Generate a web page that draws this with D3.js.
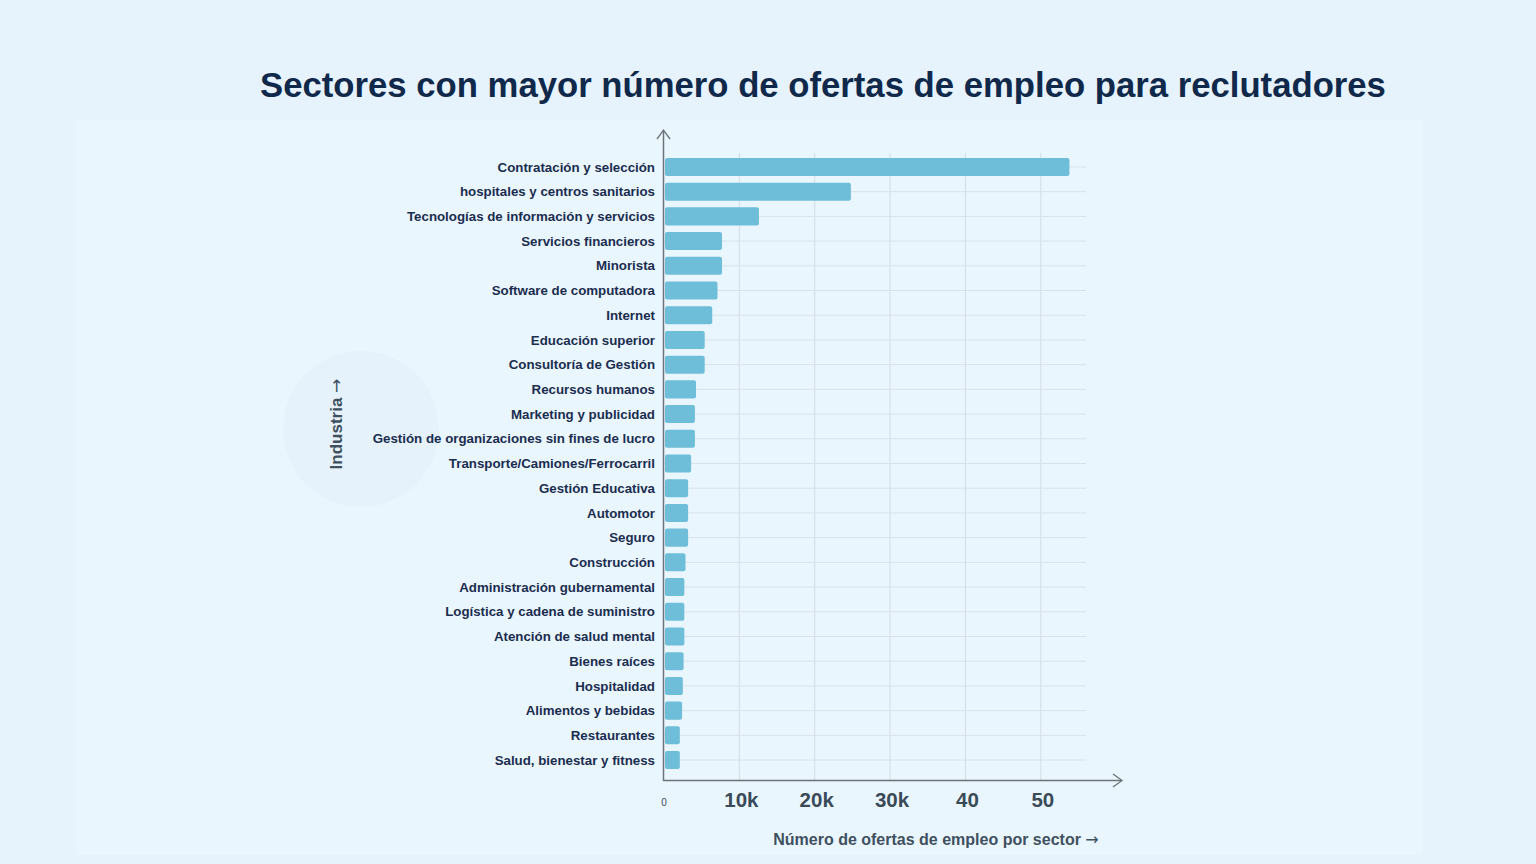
<!DOCTYPE html>
<html>
<head>
<meta charset="utf-8">
<script src="https://cdn.jsdelivr.net/npm/d3@7"></script>
<style>
  html, body { margin: 0; padding: 0; background: #e6f3fd; }
  svg { display: block; }
</style>
</head>
<body>
<svg id="chart" width="1536" height="864"></svg>
<script>
const categories = [
  "Contratación y selección",
  "hospitales y centros sanitarios",
  "Tecnologías de información y servicios",
  "Servicios financieros",
  "Minorista",
  "Software de computadora",
  "Internet",
  "Educación superior",
  "Consultoría de Gestión",
  "Recursos humanos",
  "Marketing y publicidad",
  "Gestión de organizaciones sin fines de lucro",
  "Transporte/Camiones/Ferrocarril",
  "Gestión Educativa",
  "Automotor",
  "Seguro",
  "Construcción",
  "Administración gubernamental",
  "Logística y cadena de suministro",
  "Atención de salud mental",
  "Bienes raíces",
  "Hospitalidad",
  "Alimentos y bebidas",
  "Restaurantes",
  "Salud, bienestar y fitness"
];
const values = [
  53800, 24800, 12600, 7700, 7700, 7100, 6400, 5400, 5400, 4250, 4100, 4100, 3600,
  3200, 3200, 3200, 2850, 2700, 2700, 2700, 2600, 2500, 2400, 2100, 2100
];
const tickValues = [0, 10000, 20000, 30000, 40000, 50000];
const tickLabels = ["0", "10k", "20k", "30k", "40", "50"];
const title = "Sectores con mayor número de ofertas de empleo para reclutadores";
const xTitle = "Número de ofertas de empleo por sector";
const yTitle = "Industria";
const arrow = "→";

const svg = d3.select("#chart");
const font = "'Liberation Sans', Arial, Helvetica, sans-serif";
const arrowFont = "'DejaVu Sans', sans-serif";

// background panel
svg.append("rect").attr("x", 0).attr("y", 0).attr("width", 1536).attr("height", 864).attr("fill", "#e6f3fd");
svg.append("rect").attr("x", 76).attr("y", 120).attr("width", 1347).attr("height", 735).attr("fill", "#eaf6fe");

// decorative circle
svg.append("circle").attr("cx", 361).attr("cy", 429).attr("r", 78).attr("fill", "#e6f2fb");

const x = d3.scaleLinear().domain([0, 56000]).range([664, 1086]);
const y = d3.scaleBand().domain(categories).range([154.6, 772.4]).paddingInner(0.27).paddingOuter(0.135);

const data = categories.map((c, i) => ({ c, v: values[i] }));

// vertical gridlines
svg.append("g").selectAll("line").data(tickValues.slice(1)).join("line")
  .attr("x1", d => x(d)).attr("x2", d => x(d))
  .attr("y1", 153).attr("y2", 780)
  .attr("stroke", "#d2dbe2").attr("stroke-width", 1);

// horizontal gridlines
svg.append("g").selectAll("line").data(categories).join("line")
  .attr("x1", 664).attr("x2", x(56000))
  .attr("y1", d => y(d) + y.bandwidth() / 2).attr("y2", d => y(d) + y.bandwidth() / 2)
  .attr("stroke", "#d8e1e7").attr("stroke-width", 1);

// bars
svg.append("g").selectAll("rect").data(data).join("rect")
  .attr("x", x(0) + 1)
  .attr("y", d => y(d.c))
  .attr("width", d => x(d.v) - x(0) - 1)
  .attr("height", y.bandwidth())
  .attr("rx", 2)
  .attr("fill", "#6ebed9");

// category labels
svg.append("g").selectAll("text").data(categories).join("text")
  .attr("x", 655)
  .attr("y", d => y(d) + y.bandwidth() / 2)
  .attr("dy", "0.35em")
  .attr("text-anchor", "end")
  .attr("font-family", font)
  .attr("font-weight", "bold")
  .attr("font-size", 13.3)
  .attr("fill", "#1b2d4f")
  .text(d => d);

// axes lines with arrows
const axisColor = "#6b7379";
svg.append("line").attr("x1", 663.5).attr("x2", 663.5).attr("y1", 781).attr("y2", 131)
  .attr("stroke", axisColor).attr("stroke-width", 1.5);
svg.append("path").attr("d", "M657,139 L663.5,130 L670,139").attr("fill", "none")
  .attr("stroke", axisColor).attr("stroke-width", 1.3);
svg.append("line").attr("x1", 663).attr("x2", 1121).attr("y1", 780.5).attr("y2", 780.5)
  .attr("stroke", axisColor).attr("stroke-width", 1.5);
svg.append("path").attr("d", "M1113,774 L1122,780.5 L1113,787").attr("fill", "none")
  .attr("stroke", axisColor).attr("stroke-width", 1.3);

// x tick labels
svg.append("g").selectAll("text").data(tickValues).join("text")
  .attr("x", (d, i) => i === 0 ? x(d) : x(d) + 2)
  .attr("y", (d, i) => i === 0 ? 806 : 807)
  .attr("text-anchor", "middle")
  .attr("font-family", font)
  .attr("font-weight", (d, i) => i === 0 ? "normal" : "bold")
  .attr("font-size", (d, i) => i === 0 ? 10 : 20.5)
  .attr("fill", "#3a4a58")
  .text((d, i) => tickLabels[i]);

// axis titles
const xt = svg.append("text").attr("x", 936).attr("y", 845).attr("text-anchor", "middle")
  .attr("font-family", font).attr("font-weight", "bold").attr("font-size", 16)
  .attr("fill", "#3f5060");
xt.append("tspan").text(xTitle + " ");
xt.append("tspan").attr("font-family", arrowFont).attr("font-weight", "normal").text(arrow);

const yt = svg.append("text").attr("transform", "translate(342,424) rotate(-90)")
  .attr("text-anchor", "middle")
  .attr("font-family", font).attr("font-weight", "bold").attr("font-size", 17)
  .attr("fill", "#3f5060");
yt.append("tspan").text(yTitle + " ");
yt.append("tspan").attr("font-family", arrowFont).attr("font-weight", "normal").text(arrow);

// title
svg.append("text").attr("x", 823).attr("y", 97).attr("text-anchor", "middle")
  .attr("font-family", font).attr("font-weight", "bold").attr("font-size", 34.7)
  .attr("fill", "#10294b").text(title);
</script>
</body>
</html>
